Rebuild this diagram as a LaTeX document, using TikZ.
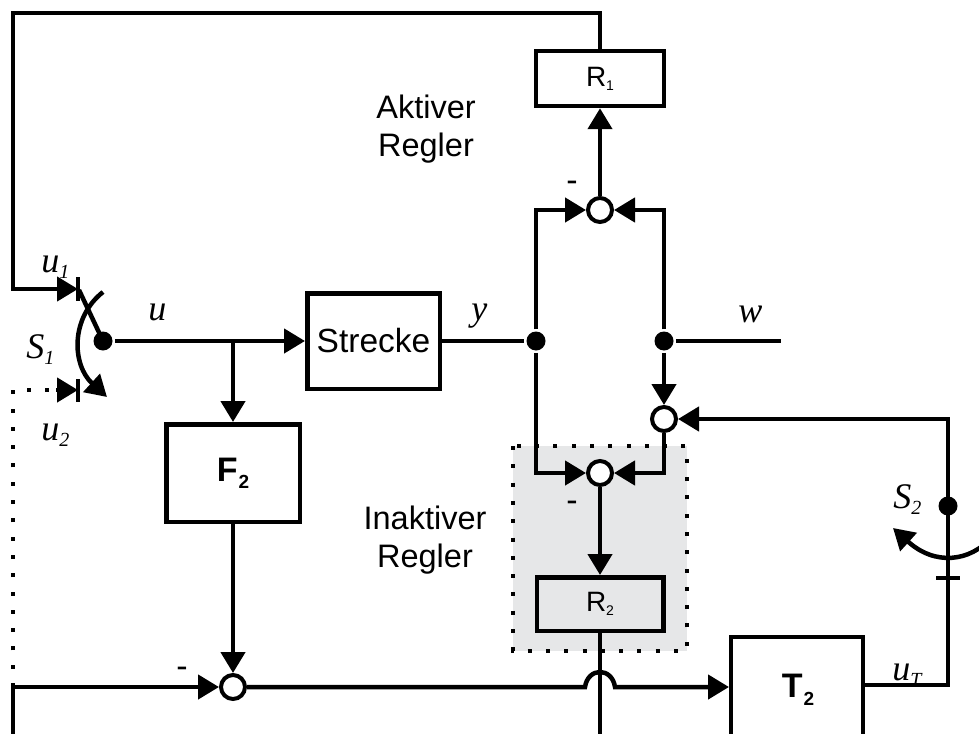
\documentclass[tikz,border=0pt]{standalone}
\usepackage{fontspec}
\setmainfont{Liberation Sans}
\newfontfamily\serif{Liberation Serif}
\usetikzlibrary{arrows.meta}
\definecolor{boxgray}{HTML}{E6E7E8}
\newcommand\mylab[2]{{\serif\itshape #1\raisebox{-6pt}{\fontsize{20}{20}\selectfont #2}}}
\begin{document}
\begin{tikzpicture}[x=1pt,y=-1pt, line width=4.5pt,
  arr/.style={-{Triangle[length=21pt,width=24pt]}},
  blk/.style={draw, rectangle, inner sep=0pt},
  sumnode/.style={draw, circle, minimum size=24pt, inner sep=0pt, fill=white, line width=4pt},
  jdot/.style={circle, fill, minimum size=19pt, inner sep=0pt},
  lab/.style={font=\fontsize{36}{36}\selectfont, inner sep=0pt, anchor=base west},
  sans/.style={font=\fontsize{32.5}{38}\selectfont, align=center, inner sep=0pt},
  minus/.style={font=\fontsize{34}{34}\selectfont, inner sep=0pt, anchor=base},
  dotline/.style={line width=4pt, dash pattern=on 4pt off 14.3pt}]
\useasboundingbox (0,0) rectangle (979,733);
\clip (0,0) rectangle (979,733);

% gray box (inactive controller)
\fill[boxgray] (513,446) rectangle (687,651);
\draw[dotline] (513,446) rectangle (687,651);

% blocks
\node[blk, minimum width=128pt, minimum height=55pt, fill=white] (R1) at (600,78.5) {\fontsize{28}{28}\selectfont R\raisebox{-4pt}{\fontsize{14}{14}\selectfont 1}};
\node[blk, minimum width=132.5pt, minimum height=95.5pt] (S) at (373.5,341) {\fontsize{33.5}{33.5}\selectfont Strecke};
\node[blk, minimum width=133.5pt, minimum height=97.5pt] (F2) at (233,473) {\fontsize{34}{34}\selectfont\bfseries F\kern1pt\raisebox{-7pt}{\fontsize{19}{19}\selectfont 2}};
\node[blk, minimum width=126.5pt, minimum height=53.5pt] (R2) at (600,604) {\fontsize{28}{28}\selectfont R\raisebox{-4pt}{\fontsize{14}{14}\selectfont 2}};
\draw (731,740) -- (731,637) -- (863,637) -- (863,740);
\node[inner sep=0pt] (T2) at (798,690) {\fontsize{34}{34}\selectfont\bfseries T\kern1pt\raisebox{-8pt}{\fontsize{19}{19}\selectfont 2}};

% summing points
\node[sumnode] (s1) at (600,210) {};
\node[sumnode] (s3) at (664,419) {};
\node[sumnode] (s2) at (600,473) {};
\node[sumnode] (s4) at (233,687) {};

% junctions and coordinates
\node[jdot] (s1dot) at (103,341) {};
\node[jdot] (dy) at (536,341) {};
\node[jdot] (dw) at (664,341) {};
\node[jdot] (s2dot) at (948,506) {};
\coordinate (b1) at (233,341);
\coordinate (c1) at (78,289);
\coordinate (c2) at (78,390);
\coordinate (wend) at (781,341);
\coordinate (T2w) at (729,687);

% top loop to switch S1
\draw[arr] (R1.north) |- (13,13) -- (13,289) -- (c1);
\draw (78,277) -- (78,301);
% u2 contact
\draw[dotline] (13,687) -- (13,390) -- (58,390);
\draw[arr] (56,390) -- (c2);
\draw (78,379) -- (78,402);
% switch S1
\draw (s1dot.center) -- (79,290);
\draw[arr] (103,292) .. controls (70,318) and (72,365) .. (107,397);

% main path
\draw[arr] (s1dot) -- (S.west);
\draw[arr] (b1) -- (F2.north);
\draw[arr] (F2.south) -- (s4.north);
\draw[arr] (13,740) -- (13,687) -- (s4.west);
\draw (S.east) -- (dy);
\draw (dw) -- (wend);

% comparators
\draw[arr] (dy) |- (s1.west);
\draw[arr] (dy) |- (s2.west);
\draw[arr] (dw) |- (s1.east);
\draw[arr] (dw) -- (s3.north);
\draw[arr] (s3.south) |- (s2.east);
\draw[arr] (s1.north) -- (R1.south);
\draw[arr] (s2.south) -- (R2.north);
\draw (R2.south) -- (600,740);

% bottom line with bridge
\draw[arr] (s4.east) -- (585,687) .. controls (588,667) and (612,667) .. (615,687) -- (T2w);

% T2 output and switch S2
\draw[arr] (863,685) -- (948,685) -- (948,419) -- (s3.east);
\draw (936,578) -- (960,578);
\draw[arr] (992,537) .. controls (970,562) and (935,566) .. (893,528);

% labels
\node[lab] at (39,272) {\mylab{u}{1}};
\node[lab] at (146,320) {\mylab{u}{}};
\node[lab] at (24,358) {\mylab{S}{1}};
\node[lab] at (39,440) {\mylab{u}{2}};
\node[lab] at (469,320) {\mylab{y}{}};
\node[lab] at (736,322) {\mylab{w}{}};
\node[lab] at (891,508) {\mylab{S}{2}};
\node[lab] at (890,680) {\mylab{u}{T}};

\node[minus] at (572,191) {-};
\node[minus] at (572,511) {-};
\node[minus] at (182,677) {-};

\node[sans] at (426,129) {Aktiver\\Regler};
\node[sans] at (425,540) {Inaktiver\\Regler};
\end{tikzpicture}
\end{document}
